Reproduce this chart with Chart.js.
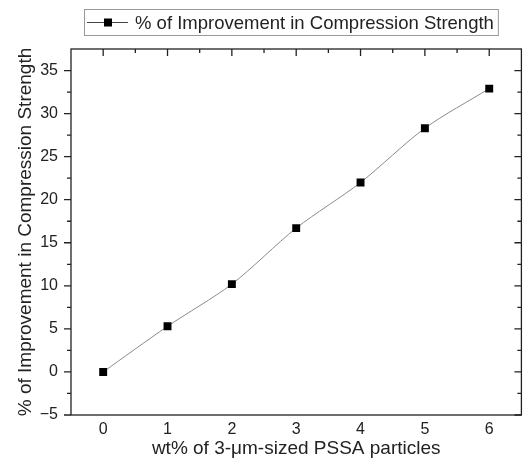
<!DOCTYPE html>
<html>
<head>
<meta charset="utf-8">
<script src="https://cdn.jsdelivr.net/npm/chart.js@4"></script>
<style>
  html, body { margin: 0; padding: 0; background: #fff; }
  #wrap { width: 527px; height: 473px; }
</style>
</head>
<body>
<div id="wrap"><canvas id="strengthChart"></canvas></div>
<script>
// Data
const wtPercent = [0, 1, 2, 3, 4, 5, 6];
const improvement = [0, 5.3, 10.2, 16.7, 22.0, 28.3, 32.9];
const xTicks = [0, 1, 2, 3, 4, 5, 6];
const yTicks = [-5, 0, 5, 10, 15, 20, 25, 30, 35];
const seriesName = '% of Improvement in Compression Strength';

const FONT = '"Liberation Sans", Arial, sans-serif';
const INK = '#222';

// Frame with Origin-style ticks: outward on left, inward on top/right, none at bottom
const frameTicks = {
  id: 'frameTicks',
  afterDraw(chart) {
    const { ctx, chartArea: a, scales: { x, y } } = chart;
    ctx.save();
    ctx.strokeStyle = INK;
    ctx.lineWidth = 1.3;
    ctx.strokeRect(a.left, a.top, a.right - a.left, a.bottom - a.top);
    ctx.beginPath();
    // y ticks: left outward, right inward
    yTicks.forEach((v) => {
      const py = y.getPixelForValue(v);
      ctx.moveTo(a.left - 7, py); ctx.lineTo(a.left, py);
      ctx.moveTo(a.right - 7, py); ctx.lineTo(a.right, py);
      const m = y.getPixelForValue(v + 2.5);
      if (m >= a.top + 1) {
        ctx.moveTo(a.left - 4, m); ctx.lineTo(a.left, m);
        ctx.moveTo(a.right - 4, m); ctx.lineTo(a.right, m);
      }
    });
    // x ticks on top: inward
    xTicks.forEach((v) => {
      const px = x.getPixelForValue(v);
      ctx.moveTo(px, a.top); ctx.lineTo(px, a.top + 7);
      if (v < xTicks[xTicks.length - 1]) {
        const m = x.getPixelForValue(v + 0.5);
        ctx.moveTo(m, a.top); ctx.lineTo(m, a.top + 4);
      }
    });
    ctx.stroke();
    ctx.restore();
  }
};

// Boxed legend like the original
const boxLegend = {
  id: 'boxLegend',
  afterDraw(chart) {
    const { ctx } = chart;
    ctx.save();
    ctx.font = '18.5px ' + FONT;
    const tw = ctx.measureText(seriesName).width;
    const bx = 84, by = 9, bh = 26;
    const textX = 135;
    const bw = textX - bx + tw + 4;
    ctx.strokeStyle = '#999';
    ctx.lineWidth = 1;
    ctx.strokeRect(bx + 0.5, by + 0.5, bw, bh);
    const cy = by + bh / 2 + 0.5;
    ctx.strokeStyle = '#444';
    ctx.beginPath();
    ctx.moveTo(87, cy); ctx.lineTo(128, cy);
    ctx.stroke();
    ctx.fillStyle = '#000';
    ctx.fillRect(104, cy - 4, 8, 8);
    ctx.fillStyle = INK;
    ctx.textBaseline = 'middle';
    ctx.fillText(seriesName, textX, cy + 1);
    ctx.restore();
  }
};

const data = {
  datasets: [{
    label: seriesName,
    data: wtPercent.map((w, i) => ({ x: w, y: improvement[i] })),
    borderColor: '#8a8a8a',
    borderWidth: 1,
    tension: 0.3,
    pointStyle: 'rect',
    pointRadius: 5.6,
    pointBackgroundColor: '#000',
    pointBorderColor: '#000',
    pointBorderWidth: 0
  }]
};

const options = {
  responsive: false,
  animation: false,
  layout: { padding: { top: 49, right: 4, left: 0, bottom: 0 } },
  plugins: {
    legend: { display: false },
    tooltip: { enabled: false }
  },
  scales: {
    x: {
      type: 'linear',
      min: -0.5,
      max: 6.5,
      afterBuildTicks: (s) => { s.ticks = xTicks.map(v => ({ value: v })); },
      afterFit: (s) => { s.height = 58; },
      grid: { display: false, drawTicks: false },
      border: { display: false },
      ticks: { color: INK, font: { family: FONT, size: 16 }, padding: 5 },
      title: {
        display: true,
        text: 'wt% of 3-μm-sized PSSA particles',
        color: INK,
        font: { family: FONT, size: 19 },
        padding: { top: 0, bottom: 13 }
      }
    },
    y: {
      min: -5,
      max: 37.5,
      afterBuildTicks: (s) => { s.ticks = yTicks.map(v => ({ value: v })); },
      afterFit: (s) => { s.width = 71; },
      grid: { display: false, drawTicks: false },
      border: { display: false },
      ticks: {
        color: INK,
        font: { family: FONT, size: 16 },
        padding: 13,
        callback: (v) => (v < 0 ? '\u2212' + Math.abs(v) : String(v))
      },
      title: {
        display: true,
        text: '% of Improvement in Compression Strength',
        color: INK,
        font: { family: FONT, size: 19 },
        padding: { top: 14, bottom: 0 }
      }
    }
  }
};

const canvas = document.getElementById('strengthChart');
canvas.width = 527;
canvas.height = 473;
new Chart(canvas, {
  type: 'line',
  data: data,
  options: options,
  plugins: [frameTicks, boxLegend]
});
</script>
</body>
</html>
